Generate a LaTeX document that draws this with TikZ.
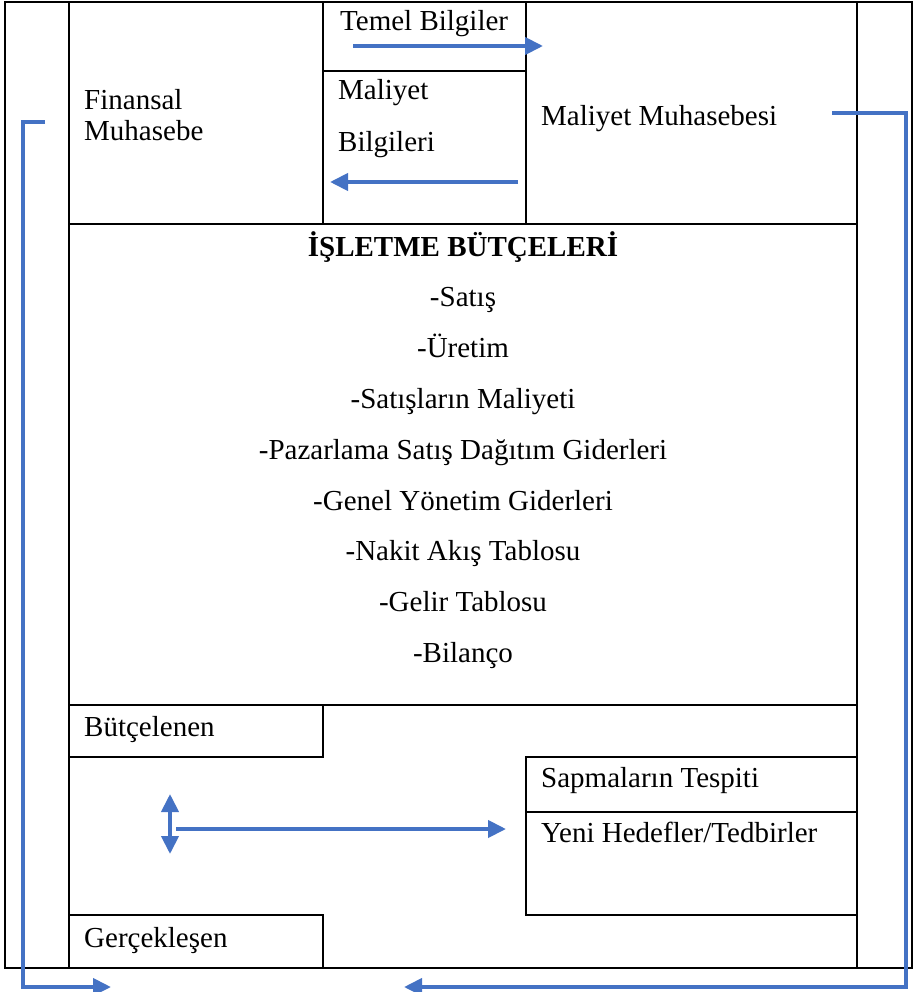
\documentclass[tikz,border=0pt]{standalone}
\usepackage{fontspec}
\setmainfont{Liberation Serif}
\usetikzlibrary{arrows.meta}
\definecolor{akis}{HTML}{4472C4}
\definecolor{cizgi}{HTML}{000000}
\tikzset{
  kutu/.style={draw=cizgi,line width=2.4pt},
  hat/.style={draw=akis,line width=4pt},
  ok/.style={hat,-{Triangle[length=18pt,width=17pt]}},
  cift/.style={hat,{Triangle[length=18pt,width=17pt]}-{Triangle[length=18pt,width=17pt]}},
  yazi/.style={font=\fontsize{29}{35}\selectfont,inner sep=0pt,anchor=base west},
  baslik/.style={font=\fontsize{29}{35}\selectfont\bfseries,inner sep=0pt,anchor=base},
  madde/.style={font=\fontsize{29}{35}\selectfont,inner sep=0pt,anchor=base},
}
\begin{document}
\begin{tikzpicture}[x=1pt,y=-1pt]
  \useasboundingbox (0,0) rectangle (915,992);
  % dis cerceve ve seritler
  \draw[kutu] (5,2) rectangle (912,968);
  \draw[kutu] (69,2) -- (69,968);
  \draw[kutu] (857,2) -- (857,968);
  % ust satir
  \draw[kutu] (323,2) -- (323,224);
  \draw[kutu] (526,2) -- (526,224);
  \draw[kutu] (323,71) -- (526,71);
  \draw[kutu] (69,224) -- (857,224);
  % butce alani
  \draw[kutu] (69,705) -- (857,705);
  \draw[kutu] (69,757) -- (323,757) -- (323,705);
  \draw[kutu] (526,757) rectangle (857,915);
  \draw[kutu] (526,812) -- (857,812);
  \draw[kutu] (69,915) -- (323,915) -- (323,968);
  % yazilar
  \node[yazi] (temel) at (340,31) {Temel Bilgiler};
  \node[yazi] (finansal) at (84,110) {Finansal};
  \node[yazi] (muhasebe) at (84,141) {Muhasebe};
  \node[yazi] (maliyet) at (338,100) {Maliyet};
  \node[yazi] (bilgileri) at (338,152) {Bilgileri};
  \node[yazi] (malmuh) at (541,126) {Maliyet Muhasebesi};
  \node[baslik] (butce) at (463,256) {İŞLETME BÜTÇELERİ};
  \foreach \t [count=\i] in {-Satış,-Üretim,-Satışların Maliyeti,-Pazarlama Satış Dağıtım Giderleri,-Genel Yönetim Giderleri,-Nakit Akış Tablosu,-Gelir Tablosu,-Bilanço}
    \node[madde] (m\i) at (463,{256+\i*50.8}) {\t};
  \node[yazi] (butcelenen) at (84,736) {Bütçelenen};
  \node[yazi] (sapma) at (541,787) {Sapmaların Tespiti};
  \node[yazi] (hedef) at (541,842) {Yeni Hedefler/Tedbirler};
  \node[yazi] (gercek) at (84,947) {Gerçekleşen};
  % oklar
  \coordinate (t1) at (353,46);  \coordinate (t2) at (543,46);
  \coordinate (b1) at (518,182); \coordinate (b2) at (330,182);
  \draw[ok] (t1) -- (t2);
  \draw[ok] (b1) -- (b2);
  \coordinate (sol1) at (45,122); \coordinate (sol2) at (23,987); \coordinate (sol3) at (111,987);
  \draw[ok] (sol1) -| (sol2) -- (sol3);
  \coordinate (sag1) at (832,113); \coordinate (sag2) at (906,987); \coordinate (sag3) at (404,987);
  \draw[ok] (sag1) -| (sag2) -- (sag3);
  \coordinate (c1) at (170,794); \coordinate (c2) at (170,854);
  \draw[cift] (c1) -- (c2);
  \coordinate (y1) at (176,829); \coordinate (y2) at (506,829);
  \draw[ok] (y1) -- (y2);
\end{tikzpicture}
\end{document}
